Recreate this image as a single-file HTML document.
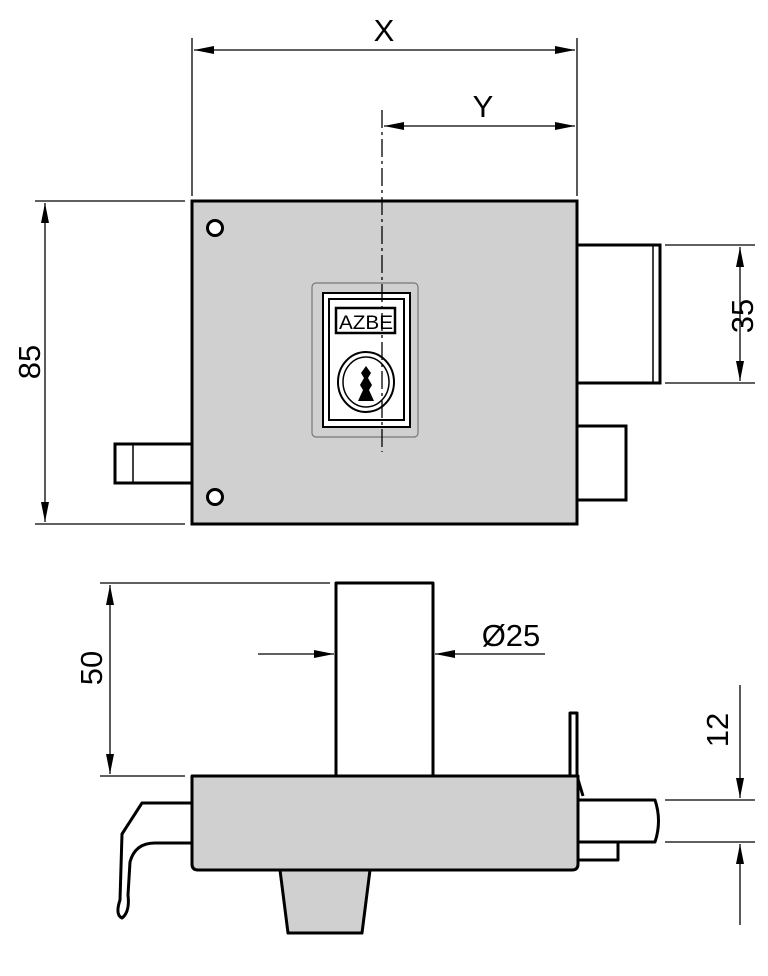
<!DOCTYPE html>
<html><head><style>body{margin:0;background:#fff}svg{display:block}</style></head><body>
<svg width="768" height="976" viewBox="0 0 768 976" xmlns="http://www.w3.org/2000/svg" font-family="Liberation Sans, sans-serif">
<defs>
<marker id="a" viewBox="0 0 20 8" refX="20" refY="4" markerWidth="20" markerHeight="8" markerUnits="userSpaceOnUse" orient="auto"><path d="M0,0 L20,4 L0,8 z" fill="#000"/></marker>
</defs>
<g stroke="#000" fill="none" stroke-width="1.3">
<line x1="192" y1="38" x2="192" y2="196"/><line x1="577" y1="38" x2="577" y2="196"/>
<line x1="284" y1="50" x2="194" y2="50" marker-end="url(#a)"/><line x1="284" y1="50" x2="575" y2="50" marker-end="url(#a)"/>
<line x1="480" y1="126" x2="384" y2="126" marker-end="url(#a)"/><line x1="480" y1="126" x2="575" y2="126" marker-end="url(#a)"/>
<line x1="35" y1="201" x2="185" y2="201"/><line x1="35" y1="524" x2="185" y2="524"/>
<line x1="45" y1="362" x2="45" y2="203" marker-end="url(#a)"/><line x1="45" y1="362" x2="45" y2="522" marker-end="url(#a)"/>
<line x1="665" y1="245" x2="755" y2="245"/><line x1="665" y1="383" x2="755" y2="383"/>
<line x1="740" y1="314" x2="740" y2="247" marker-end="url(#a)"/><line x1="740" y1="314" x2="740" y2="381" marker-end="url(#a)"/>
<line x1="100" y1="583" x2="330" y2="583"/><line x1="100" y1="776" x2="185" y2="776"/>
<line x1="110" y1="680" x2="110" y2="585" marker-end="url(#a)"/><line x1="110" y1="680" x2="110" y2="774" marker-end="url(#a)"/>
<line x1="258" y1="654" x2="334" y2="654" marker-end="url(#a)"/><line x1="545" y1="654" x2="435" y2="654" marker-end="url(#a)"/>
<line x1="665" y1="800" x2="755" y2="800"/><line x1="665" y1="842" x2="755" y2="842"/>
<line x1="740" y1="685" x2="740" y2="798" marker-end="url(#a)"/><line x1="740" y1="925" x2="740" y2="844" marker-end="url(#a)"/>
</g>
<g font-size="31" fill="#000" text-anchor="middle">
<text x="384" y="41">X</text><text x="483" y="117">Y</text>
<text transform="translate(40,362) rotate(-90)">85</text>
<text transform="translate(753,316) rotate(-90)">35</text>
<text transform="translate(102,668) rotate(-90)">50</text>
<text x="511" y="646">Ø25</text>
<text transform="translate(728,730) rotate(-90)">12</text>
</g>
<g stroke="#000" stroke-width="3">
<rect x="577" y="245" width="83" height="138" fill="#fff"/><line x1="653" y1="245" x2="653" y2="383" stroke-width="1.5"/>
<rect x="577" y="426" width="49" height="74" fill="#fff"/>
<rect x="115" y="444" width="77" height="39" fill="#fff"/><line x1="133" y1="444" x2="133" y2="483" stroke-width="1.5"/>
<rect x="192" y="201" width="385" height="323" fill="#d0d0d0"/>
<circle cx="215" cy="228" r="7.5" fill="#fff" stroke-width="3"/><circle cx="215" cy="497" r="7.5" fill="#fff" stroke-width="3"/>
</g>
<rect x="312" y="283" width="106" height="154" rx="4" fill="#d0d0d0" stroke="#777" stroke-width="1.2"/>
<rect x="323" y="293" width="87" height="134" fill="#fff" stroke="#000" stroke-width="2"/>
<rect x="329" y="299" width="75" height="121" fill="#fff" stroke="#000" stroke-width="2"/>
<rect x="336" y="308" width="59" height="25" fill="#fff" stroke="#000" stroke-width="2.5"/>
<text x="366" y="329" font-size="19" text-anchor="middle" fill="#000" textLength="54" lengthAdjust="spacingAndGlyphs">AZBE</text>
<ellipse cx="366" cy="382" rx="28" ry="30" fill="#fff" stroke="#000" stroke-width="2"/>
<ellipse cx="366" cy="382" rx="23" ry="25" fill="none" stroke="#000" stroke-width="1.5"/>
<path d="M366,366 l5,7 -3,5 4,7 -3,5 5,11 -16,0 5,-11 -3,-5 4,-7 -3,-5z" fill="#000"/>
<line x1="382" y1="110" x2="382" y2="452" stroke="#000" stroke-width="1.3" stroke-dasharray="18,4,3,4"/>
<g stroke="#000" stroke-width="3" stroke-linejoin="round">
<path d="M192,803 L142,803 L122,834 L120,900 Q115,915 122,918 Q130,912 128,895 L130,862 Q135,843 155,843 L192,843" fill="#fff"/>
<path d="M578,800 L655,800 Q662,821 655,842 L578,842 z" fill="#fff"/>
<path d="M578,842 L618,842 L618,860 L578,860" fill="#fff"/>
<path d="M570,776 L570,713 L577,713 L577,776 L583,796" fill="#fff"/>
<rect x="336" y="583" width="97" height="193" fill="#fff"/>
<path d="M280,870 L288,933 L362,933 L370,870 z" fill="#d0d0d0"/>
<path d="M192,776 L578,776 L578,864 Q578,870 572,870 L198,870 Q192,870 192,864 z" fill="#d0d0d0"/>
</g>
</svg>
</body></html>
